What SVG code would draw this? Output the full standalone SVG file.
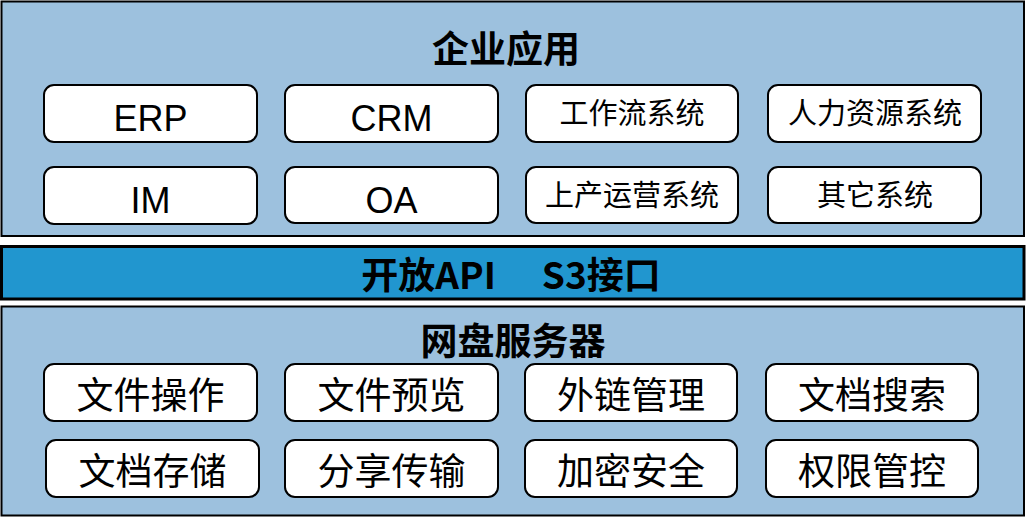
<svg xmlns="http://www.w3.org/2000/svg" width="1026" height="519" viewBox="0 0 1026 519">
<style>
.panel{fill:#9dc1de;stroke:#000;stroke-width:2}
.band{fill:#2196cf;stroke:#000;stroke-width:3}
.box{fill:#fff;stroke:#000;stroke-width:2}
.title{font-family:"Noto Sans CJK SC","Liberation Sans",sans-serif;font-weight:bold;font-size:37px;fill:#000;text-anchor:middle}
.en{font-family:"Liberation Sans",Arial,sans-serif;font-size:36px;fill:#000;text-anchor:middle}
.cs{font-family:"Noto Sans CJK SC",sans-serif;font-size:29px;fill:#000;text-anchor:middle}
.cl{font-family:"Noto Sans CJK SC",sans-serif;font-size:37px;fill:#000;text-anchor:middle}
</style>
<rect width="1026" height="519" fill="#fff"/>
<g id="enterprise-apps">
<rect class="panel" x="1.5" y="1.5" width="1022.5" height="234.5"/>
<text class="title" x="506" y="63">企业应用</text>
</g>
<g id="open-api">
<rect class="band" x="1.5" y="246.5" width="1022.5" height="52.5"/>
<text class="title" x="511" y="289" font-family="'Liberation Sans','Noto Sans CJK SC',sans-serif">开放API<tspan dx="46">S3接口</tspan></text>
</g>
<g id="netdisk-server">
<rect class="panel" x="1.5" y="306.5" width="1022.5" height="209"/>
<text class="title" x="513" y="355">网盘服务器</text>
</g>
<g id="erp"><rect class="box" x="44" y="85" width="213" height="57" rx="10"/><text class="en" x="150.5" y="131">ERP</text></g>
<g id="crm"><rect class="box" x="285" y="85" width="213" height="57" rx="10"/><text class="en" x="391.5" y="131">CRM</text></g>
<g id="workflow"><rect class="box" x="526" y="85" width="212" height="57" rx="10"/><text class="cs" x="632" y="124">工作流系统</text></g>
<g id="hr"><rect class="box" x="768" y="85" width="213" height="57" rx="10"/><text class="cs" x="875" y="124">人力资源系统</text></g>
<g id="im"><rect class="box" x="44" y="167" width="213" height="57" rx="10"/><text class="en" x="150.5" y="213">IM</text></g>
<g id="oa"><rect class="box" x="285" y="167" width="213" height="56" rx="10"/><text class="en" x="391.5" y="213">OA</text></g>
<g id="ops"><rect class="box" x="526" y="167" width="212" height="56" rx="10"/><text class="cs" x="632" y="206">上产运营系统</text></g>
<g id="other"><rect class="box" x="768" y="167" width="213" height="56" rx="10"/><text class="cs" x="875" y="206">其它系统</text></g>
<g id="file-ops"><rect class="box" x="44" y="364" width="213" height="57" rx="10"/><text class="cl" x="150.5" y="409">文件操作</text></g>
<g id="file-preview"><rect class="box" x="285" y="364" width="213" height="57" rx="10"/><text class="cl" x="391.5" y="409">文件预览</text></g>
<g id="external-link"><rect class="box" x="525" y="364" width="212" height="57" rx="10"/><text class="cl" x="631" y="409">外链管理</text></g>
<g id="doc-search"><rect class="box" x="766" y="364" width="212" height="57" rx="10"/><text class="cl" x="872" y="409">文档搜索</text></g>
<g id="doc-storage"><rect class="box" x="46" y="440" width="213" height="57" rx="10"/><text class="cl" x="152.5" y="485">文档存储</text></g>
<g id="share-transfer"><rect class="box" x="285" y="440" width="213" height="57" rx="10"/><text class="cl" x="391.5" y="485">分享传输</text></g>
<g id="encryption"><rect class="box" x="525" y="440" width="212" height="57" rx="10"/><text class="cl" x="631" y="485">加密安全</text></g>
<g id="permissions"><rect class="box" x="766" y="440" width="212" height="57" rx="10"/><text class="cl" x="872" y="485">权限管控</text></g>
<g id="connectors"></g>
</svg>
